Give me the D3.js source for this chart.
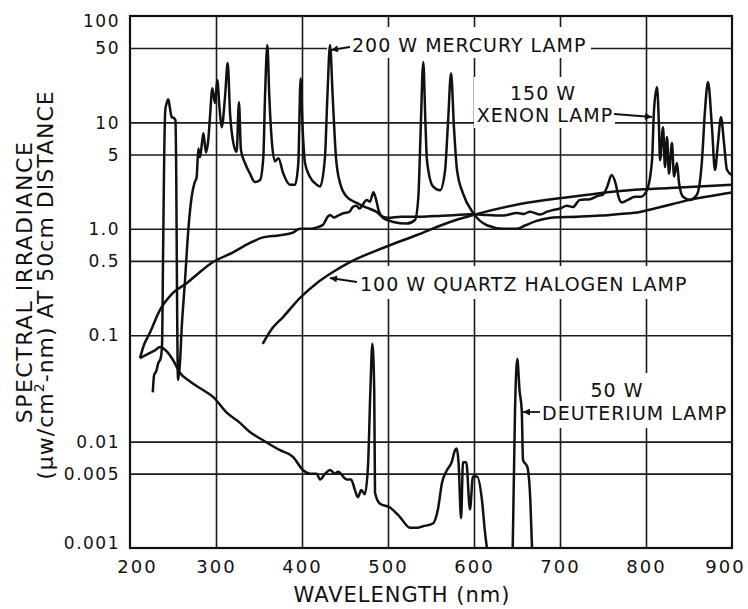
<!DOCTYPE html>
<html>
<head>
<meta charset="utf-8">
<script src="https://cdn.jsdelivr.net/npm/d3@7"></script>
<style>
body { margin: 0; background: #fff; }
svg text { font-family: "DejaVu Sans", sans-serif; fill: #111; }
</style>
</head>
<body>
<script>
// axis values
var xTicks = [200, 300, 400, 500, 600, 700, 800, 900];
var yTicks = [0.001, 0.005, 0.01, 0.1, 0.5, 1, 5, 10, 50, 100];
var yTickLabels = ["0.001", "0.005", "0.01", "0.1", "0.5", "1.0", "5", "10", "50", "100"];

// [wavelength nm, irradiance]
var mercury = [
  [226.5, 0.029], [228, 0.042], [230.5, 0.046], [233, 0.055], [235.5, 0.06], [237.2, 0.078],
  [238.5, 0.6], [239.8, 5], [241, 13], [243, 15.5], [244.5, 16.5], [246.5, 13.5], [248.5, 11.2],
  [251, 11], [252.8, 10.5], [253.8, 3], [254.6, 0.3], [255.8, 0.038], [258.1, 0.055], [260, 0.112],
  [264, 0.33], [267.8, 0.975], [271.7, 2.0], [275, 2.7], [277.5, 3.07], [279.5, 5.7], [281.4, 4.7],
  [283.5, 6.2], [285.3, 7.9], [288.4, 5.2], [291, 6.8], [293, 11.2], [295.7, 20.9], [298.8, 15.2],
  [301.5, 25], [304, 14], [306.6, 9], [310.5, 17.4], [313.6, 36.2], [316.3, 12.3], [320.2, 6.4],
  [324, 5.3], [326.7, 15.5], [329, 5.5], [333.7, 4.15], [339.5, 3.3], [345.3, 2.75], [351.2, 2.88],
  [355, 4.7], [357, 17.4], [359.7, 53.4], [362, 17.4], [364.8, 6.8], [368.6, 4.3], [372.5, 4.6],
  [378.3, 3.3], [386, 2.6], [391.9, 2.6], [395.7, 4.15], [398.4, 26], [400.8, 8.5], [403.5, 4.15],
  [409.3, 3.07], [417, 2.6], [421, 2.5], [426.7, 4.7], [429.5, 17.4], [432.6, 53.4], [435.7, 17.4],
  [439.5, 4.7], [444.2, 2.7], [452, 2.0], [463.6, 1.75], [475.2, 1.58], [486.8, 1.44], [494.6, 1.26],
  [506.2, 1.16], [521.7, 1.12], [531.4, 1.21], [535.3, 2.0], [538, 8.5], [541, 37], [543.5, 10],
  [545.3, 4.4], [552.3, 2.5], [560.5, 2.3], [566.3, 3.5], [569.8, 10], [573.3, 29], [576.7, 9],
  [580.2, 3.6], [587.2, 2.15], [598.8, 1.42], [615, 1.08], [634, 1.0], [650, 1.0], [660, 1.08],
  [672, 1.18], [692, 1.28], [720, 1.3], [747, 1.33], [770, 1.38], [793, 1.44], [810, 1.55],
  [830, 1.7], [848, 1.85], [870, 2.0], [900, 2.2]
];

var xenon = [
  [211.6, 0.061], [216, 0.08], [223, 0.105], [234.9, 0.173], [250, 0.25], [266.3, 0.31],
  [281.4, 0.393], [296.5, 0.487], [319.8, 0.6], [339.5, 0.736], [354.7, 0.83], [374.4, 0.87],
  [389.5, 0.92], [397.7, 1.0], [410, 1.0], [417.4, 1.03], [424.4, 1.09], [430, 1.3], [432.6, 1.35],
  [437, 1.28], [442, 1.33], [448, 1.4], [455, 1.44], [459, 1.6], [463, 1.65], [467, 1.55],
  [471, 1.7], [475, 1.87], [479, 1.8], [483, 2.2], [486, 1.9], [489, 1.5], [494, 1.3], [500, 1.27],
  [515, 1.3], [537, 1.3], [556, 1.32], [576, 1.34], [595, 1.37], [615, 1.35], [634, 1.33],
  [650, 1.41], [658, 1.38], [665, 1.45], [677, 1.36], [685, 1.45], [692, 1.5], [700, 1.55],
  [708, 1.65], [715, 1.6], [723, 1.87], [735, 1.9], [745, 2.05], [750, 2.1], [755, 2.5], [760, 3.2],
  [765, 2.6], [768, 2.0], [772, 1.77], [779, 1.87], [787, 2.0], [794, 2.0], [801, 2.3], [807, 4.4],
  [809.3, 13], [812.8, 21.5], [815.1, 9], [816.3, 4.4], [819.8, 9], [822.1, 3.8], [824.4, 7.3],
  [826.7, 3.3], [830.2, 6.4], [832.6, 3.1], [836, 4.15], [838.4, 2.7], [843, 2.0], [851.2, 1.87],
  [859.3, 2.1], [865.1, 4.4], [868.6, 13], [872.1, 24], [876.7, 9], [880.2, 3.57], [883.7, 6.4],
  [887.2, 11.2], [890.7, 6.4], [894.2, 3.57], [900, 3.2]
];

var quartz = [
  [354.3, 0.083], [365, 0.115], [378, 0.148], [397.7, 0.224], [417.4, 0.31], [436, 0.393],
  [455.8, 0.487], [494, 0.66], [533.7, 0.875], [572, 1.16], [595, 1.32], [653.5, 1.71],
  [711.6, 1.99], [769.8, 2.27], [828, 2.42], [900, 2.6]
];

// null = below the bottom of the chart
var deuterium = [
  [211.6, 0.061], [223, 0.068], [229, 0.072], [234.9, 0.0775], [243, 0.07], [250, 0.0585],
  [258, 0.0444], [269.8, 0.0367], [284.9, 0.0305], [296.5, 0.0263], [312.8, 0.0186], [327.9, 0.015],
  [339.5, 0.0123], [354.7, 0.0103], [374.4, 0.0083], [389.5, 0.0072], [401.2, 0.0054], [409.3, 0.005],
  [417, 0.005], [421, 0.0044], [427, 0.005], [432.6, 0.0054], [438.4, 0.005], [441.9, 0.0052],
  [452.3, 0.0044], [457, 0.0044], [461.6, 0.0035], [465, 0.003], [469, 0.0035], [473, 0.0032],
  [476.7, 0.0058], [479.5, 0.03], [481.8, 0.083], [484, 0.03], [484.9, 0.0033], [490.7, 0.0026],
  [502.3, 0.0024], [514, 0.00195], [525.6, 0.00155], [534, 0.00155], [540.7, 0.0016], [552.3, 0.0017],
  [558, 0.0023], [562.8, 0.0041], [568.6, 0.0054], [574, 0.0064], [578, 0.0083], [580, 0.0086],
  [582, 0.0064], [585, 0.0019], [587.2, 0.0064], [591, 0.0064], [595.3, 0.0023], [598.8, 0.0047],
  [603.5, 0.0047], [609.3, 0.0028], [612.8, 0.0014], [615, 0.001], [630, null], [645, 0.001],
  [647.7, 0.02], [650.3, 0.06], [653, 0.03], [655.5, 0.0198], [657, 0.0067], [662, 0.0058],
  [665.5, 0.0028], [667.5, 0.001]
];

var margin = {top: 16, right: 16, bottom: 61, left: 130}
  , width = 748 - margin.left - margin.right
  , height = 609 - margin.top - margin.bottom;

var svg = d3.select("body").append("svg")
    .attr("width", 748)
    .attr("height", 609);

var x = d3.scaleLinear().domain([200, 900]).range([margin.left, margin.left + width]);
var y = d3.scaleLog().domain([0.001, 100]).range([margin.top + height, margin.top]);

svg.append("defs").append("clipPath").attr("id", "plot")
  .append("rect")
    .attr("x", margin.left).attr("y", margin.top)
    .attr("width", width).attr("height", height);

svg.select("defs").append("marker")
    .attr("id", "head")
    .attr("viewBox", "0 0 10 10")
    .attr("refX", 10).attr("refY", 5)
    .attr("markerWidth", 9).attr("markerHeight", 7)
    .attr("markerUnits", "userSpaceOnUse")
    .attr("orient", "auto")
  .append("path")
    .attr("d", "M0,0L10,5L0,10z")
    .attr("fill", "#111");

// grid
svg.append("g")
    .attr("class", "grid")
    .attr("transform", "translate(" + margin.left + ",0)")
    .call(d3.axisLeft(y).tickValues(yTicks.slice(1, -1)).tickSize(-width).tickFormat(""))
    .call(g => g.select(".domain").remove());
svg.append("g")
    .attr("class", "grid")
    .attr("transform", "translate(0," + (margin.top + height) + ")")
    .call(d3.axisBottom(x).tickValues(xTicks.slice(1, -1)).tickSize(-height).tickFormat(""))
    .call(g => g.select(".domain").remove());
svg.selectAll(".grid line").attr("stroke", "#1a1a1a").attr("stroke-width", 1.6);

// white patches behind the lettering break the grid like on the drawing
var patches = [[327, 27, 264, 31], [474, 77, 141, 51], [358, 266, 330, 33],
               [588, 373, 60, 28], [536, 401, 190, 27]];
svg.append("g").selectAll("rect").data(patches).enter().append("rect")
    .attr("x", d => d[0]).attr("y", d => d[1])
    .attr("width", d => d[2]).attr("height", d => d[3])
    .attr("fill", "#fff");

// frame
svg.append("rect")
    .attr("x", margin.left).attr("y", margin.top)
    .attr("width", width).attr("height", height)
    .attr("fill", "none").attr("stroke", "#111").attr("stroke-width", 2.2);

// tick labels
var gy = svg.append("g")
    .attr("transform", "translate(" + margin.left + ",0)")
    .call(d3.axisLeft(y).tickValues(yTicks).tickFormat((d, i) => yTickLabels[i]).tickSize(0).tickPadding(10));
gy.select(".domain").remove();
gy.selectAll("text")
    .style("font-size", "17px").style("letter-spacing", "1.5px")
    .attr("dy", (d, i) => i === 0 ? "-0.0em" : i === yTicks.length - 1 ? "0.62em" : "0.34em");

var gx = svg.append("g")
    .attr("transform", "translate(0," + (margin.top + height) + ")")
    .call(d3.axisBottom(x).tickValues(xTicks).tickSize(0).tickPadding(12));
gx.select(".domain").remove();
gx.selectAll("text")
    .style("font-size", "18px").style("letter-spacing", "2px")
    .attr("dx", (d, i) => i === 0 ? 7 : i === xTicks.length - 1 ? -7 : 0);

// curves
var line = d3.line()
    .defined(d => d[1] !== null)
    .x(d => x(d[0]))
    .y(d => y(d[1]))
    .curve(d3.curveMonotoneX);

var curves = svg.append("g").attr("clip-path", "url(#plot)");
[mercury, xenon, quartz, deuterium].forEach(function(s) {
  curves.append("path")
      .datum(s)
      .attr("d", line)
      .attr("fill", "none")
      .attr("stroke", "#111")
      .attr("stroke-width", 2.5)
      .attr("stroke-linejoin", "round");
});

// labels and leaders
function label(t, px, py, anchor) {
  svg.append("text")
      .attr("x", px).attr("y", py)
      .attr("text-anchor", anchor || "start")
      .style("font-size", "19px").style("letter-spacing", "1px")
      .text(t);
}
function leader(x1, y1, x2, y2) {
  svg.append("line")
      .attr("x1", x1).attr("y1", y1).attr("x2", x2).attr("y2", y2)
      .attr("stroke", "#111").attr("stroke-width", 1.8)
      .attr("marker-end", "url(#head)");
}
label("200 W MERCURY LAMP", 352, 52);
leader(350, 47, 331, 50);
label("150 W", 543, 100, "middle");
label("XENON LAMP", 545, 122, "middle");
leader(614, 114, 652, 117);
label("100 W QUARTZ HALOGEN LAMP", 360, 291);
leader(357, 282, 330, 278);
label("50 W", 617, 397, "middle");
label("DEUTERIUM LAMP", 542, 420);
leader(540, 412, 523, 412);

// axis titles
svg.append("text")
    .attr("x", 402).attr("y", 602)
    .attr("text-anchor", "middle")
    .style("font-size", "21px").style("letter-spacing", "1px")
    .text("WAVELENGTH (nm)");

var yt = svg.append("g").attr("transform", "translate(32,282) rotate(-90)");
yt.append("text")
    .attr("text-anchor", "middle")
    .style("font-size", "22px").style("letter-spacing", "1.5px")
    .text("SPECTRAL IRRADIANCE");
var yt2 = yt.append("text")
    .attr("y", 21)
    .attr("dx", -3)
    .attr("text-anchor", "middle")
    .style("font-size", "22px").style("letter-spacing", "1px");
yt2.append("tspan").text("(\u03bcw/cm");
yt2.append("tspan").attr("dy", -9).style("font-size", "14px").text("2");
yt2.append("tspan").attr("dy", 9).text("-nm) AT 50cm DISTANCE");
</script>
</body>
</html>
